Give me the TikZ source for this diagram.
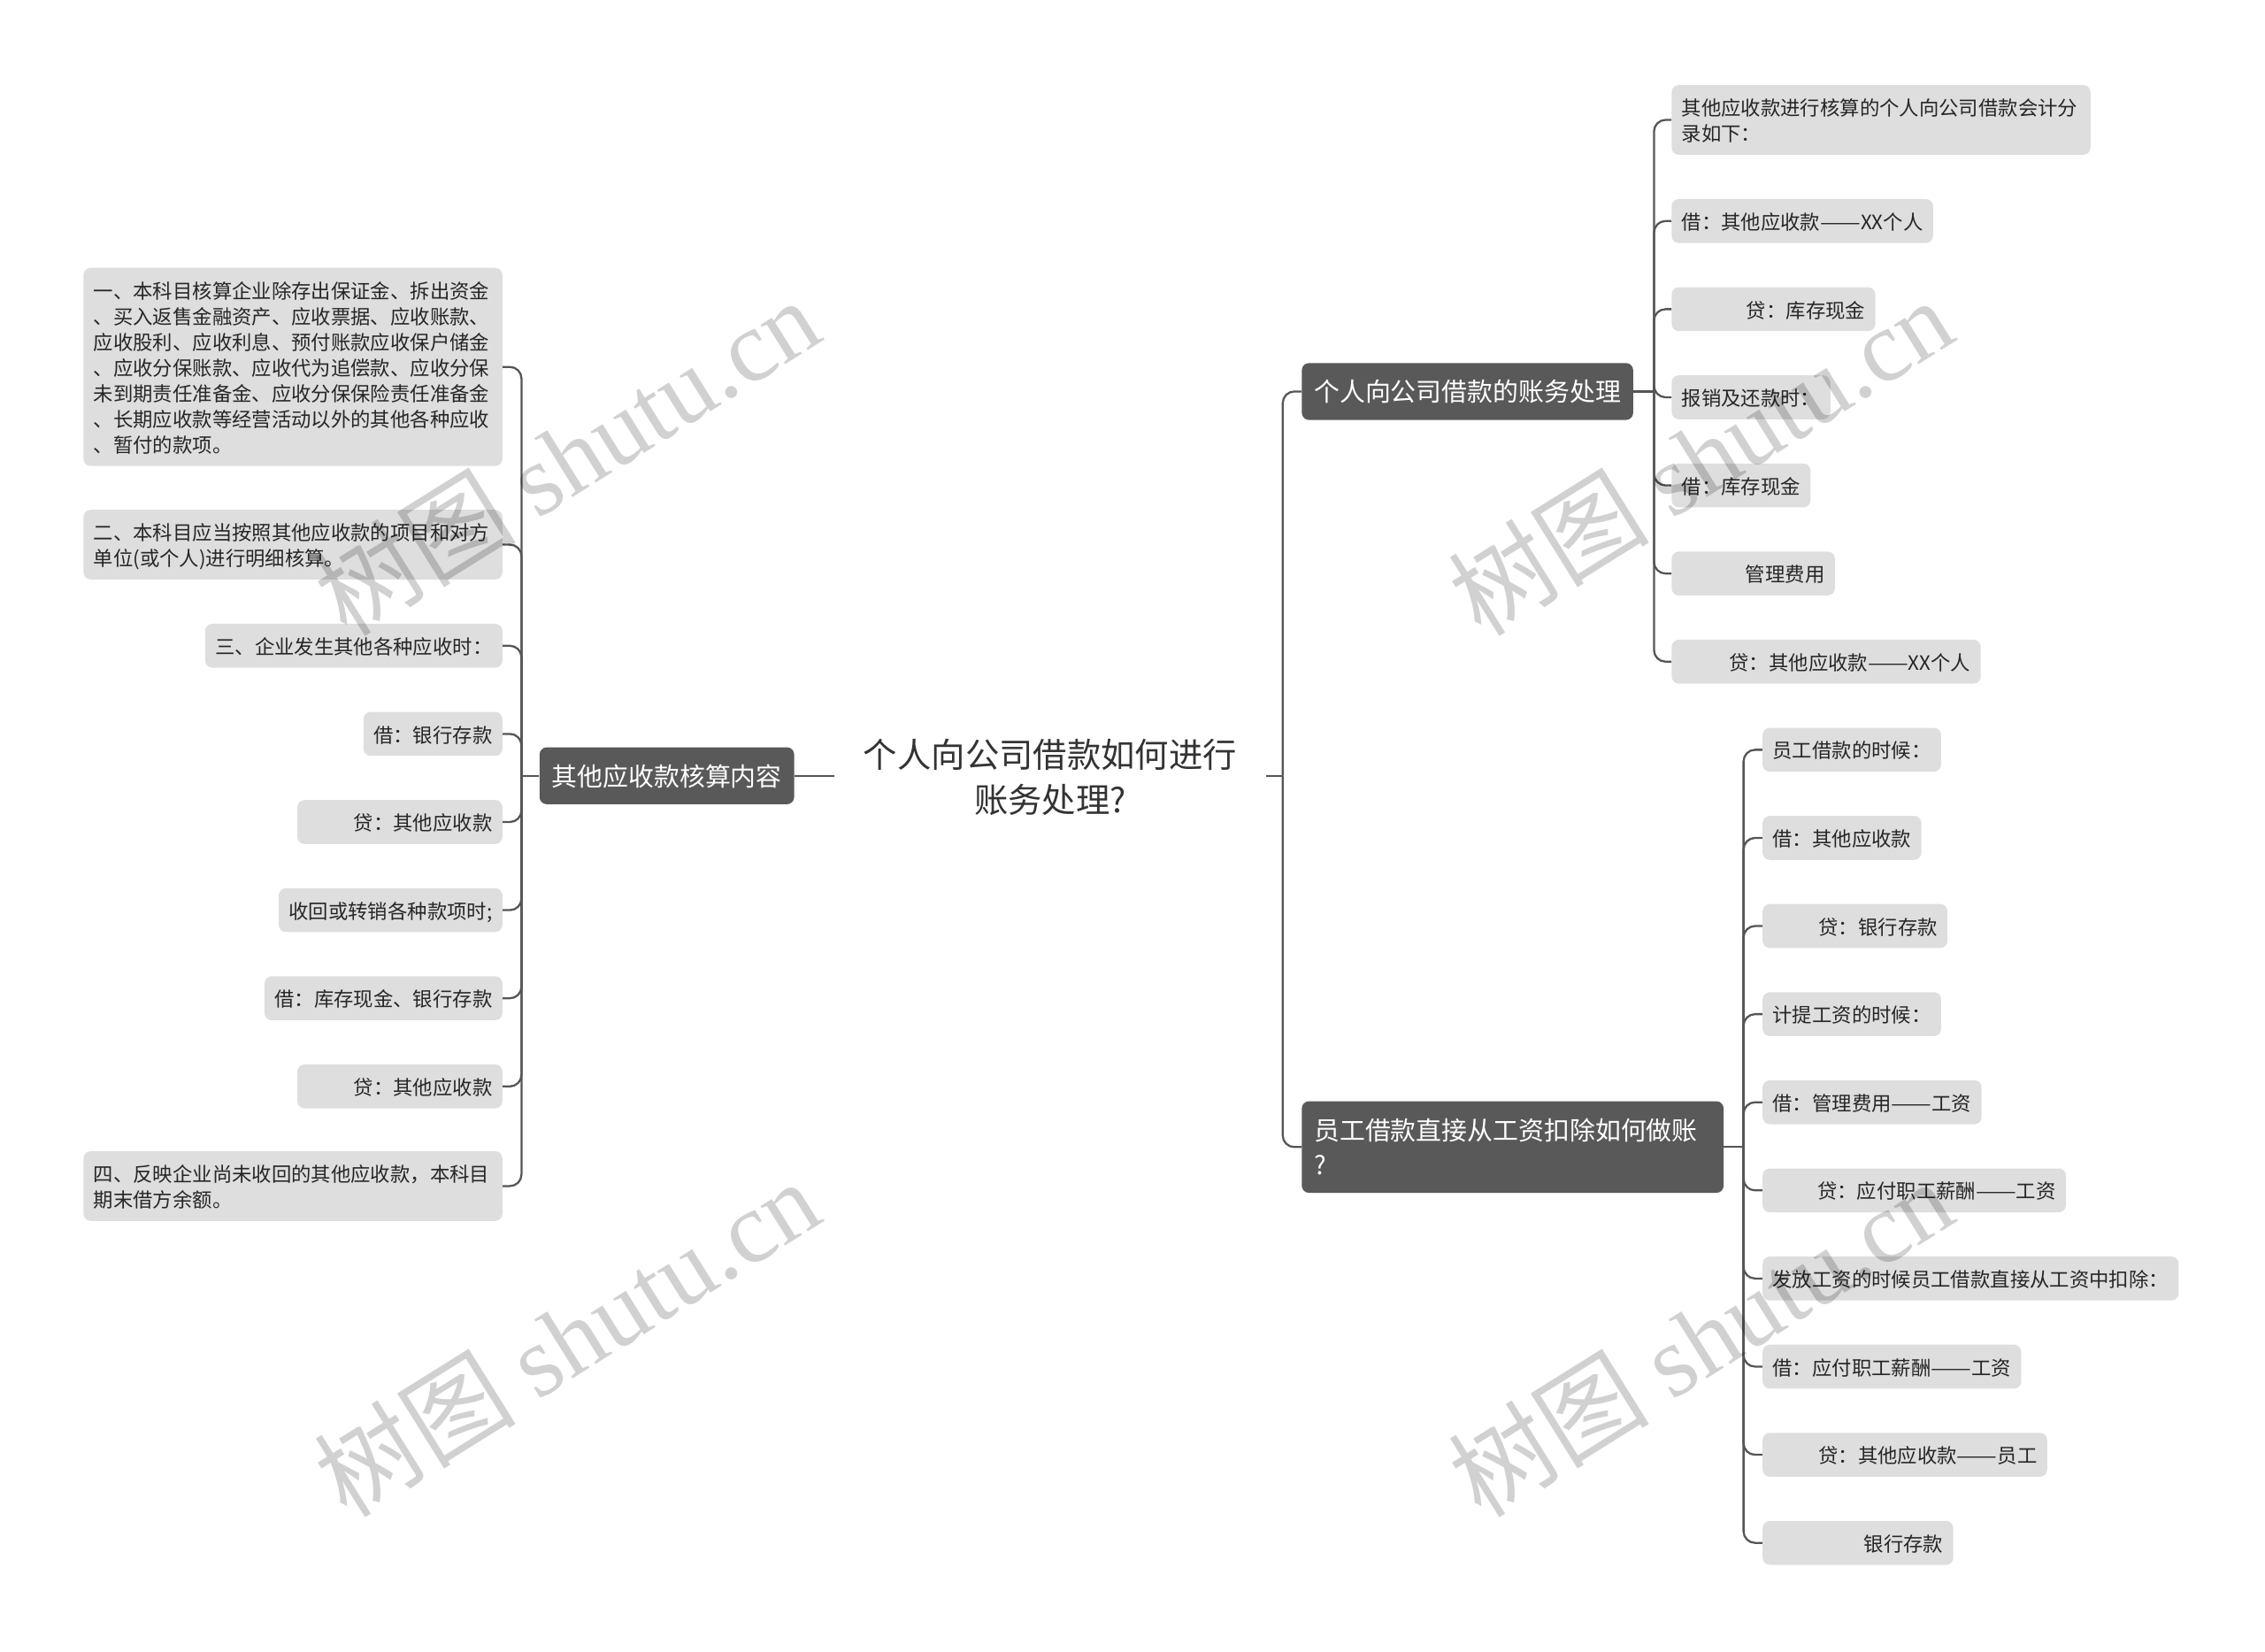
\documentclass[tikz,border=0pt]{standalone}
\usepackage{fontspec}
\setmainfont{Noto Sans CJK SC}
\newfontfamily\WmLatin{Liberation Serif}
\usetikzlibrary{positioning}

\definecolor{leafgray}{HTML}{DEDEDE}
\definecolor{topicgray}{HTML}{595959}
\definecolor{linkgray}{HTML}{555555}

\newcommand*{\LeafStrut}{\rule[-3pt]{0pt}{17.8pt}}
\newcommand*{\TopicStrut}{\rule[-2.5pt]{0pt}{19pt}}
\newcommand*{\LongDash}{\scalebox{1.22}[1]{——}}

\tikzset{
  leaf/.style={fill=leafgray, rounded corners=5pt, inner xsep=7pt, inner ysep=6.3pt,
    text=black!85, font=\fontsize{13.7}{17.8}\selectfont,
    execute at begin node=\LeafStrut, execute at end node=\LeafStrut},
  topic/.style={fill=topicgray, rounded corners=5pt, inner xsep=8.5pt, inner ysep=10.2pt,
    text=white, font=\fontsize{17.7}{24}\selectfont,
    execute at begin node=\TopicStrut, execute at end node=\TopicStrut},
  title/.style={inner xsep=20pt, align=center, text=black!80,
    font=\fontsize{23.5}{31}\selectfont},
  link/.style={draw=linkgray, line width=1.4pt, rounded corners=8pt},
  wm/.style={text=black, text opacity=0.18, font=\fontsize{70}{70}\selectfont}
}

\begin{document}
\begin{tikzpicture}[x=1pt,y=-1pt]
  \useasboundingbox (0,0) rectangle (1568,1143);

  \node[title] (T) at (727,538) {个人向公司借款如何进行\\账务处理?};
  \node[topic, anchor=east] (L) at (550,537) {其他应收款核算内容};
  \node[topic, anchor=west] (A) at (901,271) {个人向公司借款的账务处理};
  \node[topic, anchor=west, text width=275pt, align=left] (B) at (901,794)
    {员工借款直接从工资扣除如何做账\\?};

  \node[leaf, anchor=east, text width=276pt, align=left] (l1) at (348,254)
    {一、本科目核算企业除存出保证金、拆出资金\\、买入返售金融资产、应收票据、应收账款、\\应收股利、应收利息、预付账款应收保户储金\\、应收分保账款、应收代为追偿款、应收分保\\未到期责任准备金、应收分保保险责任准备金\\、长期应收款等经营活动以外的其他各种应收\\、暂付的款项。};
  \node[leaf, anchor=east, text width=276pt, align=left] (l2) at (348,377)
    {二、本科目应当按照其他应收款的项目和对方\\单位(或个人)进行明细核算。};
  \node[leaf, anchor=east] (l3) at (348,447) {三、企业发生其他各种应收时：};
  \node[leaf, anchor=east] (l4) at (348,508) {借：银行存款};
  \node[leaf, anchor=east, text width=128pt, align=right] (l5) at (348,569) {贷：其他应收款};
  \node[leaf, anchor=east] (l6) at (348,630) {收回或转销各种款项时;};
  \node[leaf, anchor=east] (l7) at (348,691) {借：库存现金、银行存款};
  \node[leaf, anchor=east, text width=128pt, align=right] (l8) at (348,752) {贷：其他应收款};
  \node[leaf, anchor=east, text width=276pt, align=left] (l9) at (348,821)
    {四、反映企业尚未收回的其他应收款，本科目\\期末借方余额。};

  \node[leaf, anchor=west, text width=276pt, align=left] (a1) at (1157,83)
    {其他应收款进行核算的个人向公司借款会计分\\录如下：};
  \node[leaf, anchor=west] (a2) at (1157,153) {借：其他应收款\LongDash XX个人};
  \node[leaf, anchor=west, text width=127pt, align=right] (a3) at (1157,214) {贷：库存现金};
  \node[leaf, anchor=west] (a4) at (1157,275) {报销及还款时：};
  \node[leaf, anchor=west] (a5) at (1157,336) {借：库存现金};
  \node[leaf, anchor=west, text width=99pt, align=right] (a6) at (1157,397) {管理费用};
  \node[leaf, anchor=west, text width=200pt, align=right] (a7) at (1157,458) {贷：其他应收款\LongDash XX个人};

  \node[leaf, anchor=west] (b1) at (1220,519) {员工借款的时候：};
  \node[leaf, anchor=west] (b2) at (1220,580) {借：其他应收款};
  \node[leaf, anchor=west, text width=114pt, align=right] (b3) at (1220,641) {贷：银行存款};
  \node[leaf, anchor=west] (b4) at (1220,702) {计提工资的时候：};
  \node[leaf, anchor=west] (b5) at (1220,763) {借：管理费用\LongDash 工资};
  \node[leaf, anchor=west, text width=196pt, align=right] (b6) at (1220,824) {贷：应付职工薪酬\LongDash 工资};
  \node[leaf, anchor=west] (b7) at (1220,885) {发放工资的时候员工借款直接从工资中扣除：};
  \node[leaf, anchor=west] (b8) at (1220,946) {借：应付职工薪酬\LongDash 工资};
  \node[leaf, anchor=west, text width=183pt, align=right] (b9) at (1220,1007) {贷：其他应收款\LongDash 员工};
  \node[leaf, anchor=west, text width=118pt, align=right] (b10) at (1220,1068) {银行存款};

  \coordinate (Ls) at (361,537);
  \coordinate (Rs) at (888,537);
  \coordinate (As) at (1145,271);
  \coordinate (Bs) at (1207,794);

  \draw[link] (T.west |- L.east) -- (L.east);
  \draw[link] (T.east |- Rs) -- (Rs);
  \draw[link] (Rs) |- (A.west);
  \draw[link] (Rs) |- (B.west);
  \draw[link] (L.west) -- (Ls);
  \draw[link] (A.east) -- (As);
  \draw[link] (B.east) -- (Bs);
  \foreach \i in {1,...,9}{
    \draw[link] (Ls) |- (l\i.east);
  }
  \foreach \i in {1,...,7}{
    \draw[link] (As) |- (a\i.west);
  }
  \foreach \i in {1,...,10}{
    \draw[link] (Bs) |- (b\i.west);
  }

  \foreach \x/\y in {392/316, 392/926, 1177/316, 1177/926}{
    \node[wm, rotate=32] at (\x,\y) {树图 {\WmLatin shutu.cn}};
  }
\end{tikzpicture}
\end{document}
